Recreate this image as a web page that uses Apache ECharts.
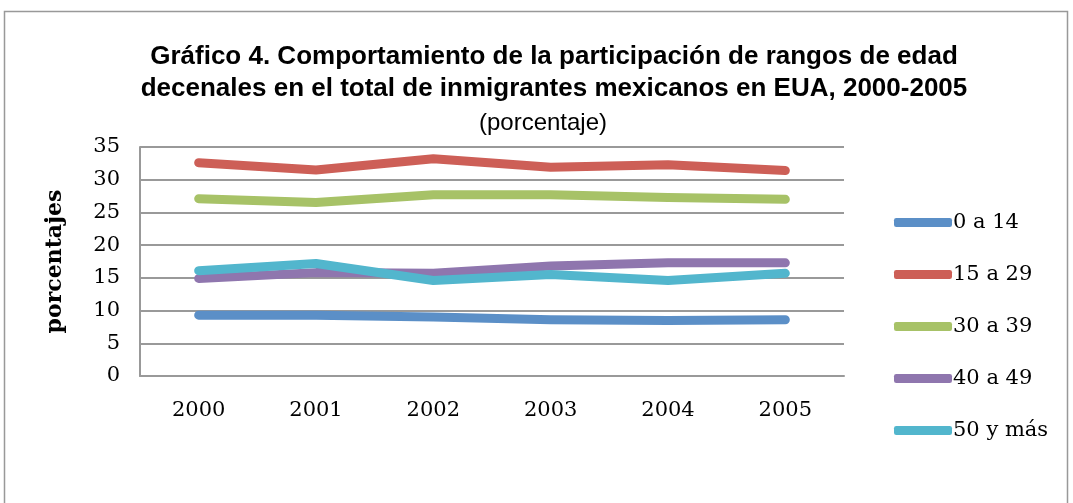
<!DOCTYPE html>
<html>
<head>
<meta charset="utf-8">
<script src="https://cdn.jsdelivr.net/npm/echarts@6/dist/echarts.min.js"></script>
<style>
  html, body { margin: 0; padding: 0; background: #fff; }
  #chart { width: 1073px; height: 503px; }
</style>
</head>
<body>
<div id="chart"></div>
<script>
const years = ['2000', '2001', '2002', '2003', '2004', '2005']
const seriesNames = ['0 a 14', '15 a 29', '30 a 39', '40 a 49', '50 y más']
const edad0a14 = [9.3, 9.3, 9.0, 8.6, 8.5, 8.6]
const edad15a29 = [32.6, 31.5, 33.2, 31.9, 32.3, 31.4]
const edad30a39 = [27.1, 26.5, 27.7, 27.7, 27.3, 27.0]
const edad40a49 = [14.9, 15.8, 15.7, 16.8, 17.3, 17.3]
const edad50mas = [16.1, 17.2, 14.6, 15.5, 14.6, 15.7]
const colors = ['#5b8fc7', '#cd5f57', '#a7c267', '#8f76ae', '#52b6cd']

const allValues = [edad0a14, edad15a29, edad30a39, edad40a49, edad50mas]
const serifFont = '"DejaVu Serif", "Liberation Serif", serif'

const chart = echarts.init(document.getElementById('chart'))
const option = {
  backgroundColor: '#fff',
  animation: false,
  graphic: [{
    type: 'rect',
    shape: { x: 4.5, y: 11.5, width: 1063, height: 520 },
    style: { fill: 'none', stroke: '#999', lineWidth: 1.5 },
    silent: true
  }],
  title: [{
    text: 'Gráfico 4. Comportamiento de la participación de rangos de edad\ndecenales en el total de inmigrantes mexicanos en EUA, 2000-2005',
    left: 549,
    top: 36,
    textAlign: 'center',
    textStyle: {
      fontFamily: '"Liberation Sans", Arial, sans-serif',
      fontWeight: 'bold',
      fontSize: 26,
      lineHeight: 32,
      color: '#000'
    }
  }, {
    text: '(porcentaje)',
    left: 538,
    top: 106,
    textAlign: 'center',
    textStyle: {
      fontFamily: '"Liberation Sans", Arial, sans-serif',
      fontWeight: 'normal',
      fontSize: 24,
      color: '#000'
    }
  }],
  legend: {
    orient: 'vertical',
    left: 889,
    top: 207,
    itemWidth: 58,
    itemHeight: 9,
    itemGap: 31,
    icon: 'roundRect',
    data: seriesNames,
    textStyle: {
      fontFamily: serifFont,
      fontSize: 21,
      color: '#000',
      padding: [0, 0, 0, -4]
    }
  },
  grid: {
    left: 140,
    right: 229,
    top: 147,
    bottom: 127
  },
  xAxis: {
    type: 'category',
    data: years,
    boundaryGap: true,
    axisLine: { lineStyle: { color: '#999', width: 2 } },
    axisTick: { show: false },
    axisLabel: {
      fontFamily: serifFont,
      fontSize: 21,
      color: '#000',
      margin: 24
    }
  },
  yAxis: {
    type: 'value',
    min: 0,
    max: 35,
    interval: 5,
    name: 'porcentajes',
    nameLocation: 'middle',
    nameGap: 74,
    nameTextStyle: {
      fontFamily: serifFont,
      fontWeight: 'bold',
      fontSize: 22,
      color: '#000'
    },
    axisLine: { show: true, lineStyle: { color: '#999', width: 2 } },
    axisTick: { show: false },
    splitLine: { lineStyle: { color: '#999', width: 2 } },
    axisLabel: {
      fontFamily: serifFont,
      fontSize: 21,
      color: '#000',
      margin: 20
    }
  },
  series: seriesNames.map((name, i) => ({
    name: name,
    type: 'line',
    data: allValues[i],
    symbol: 'none',
    color: colors[i],
    lineStyle: { width: 9, color: colors[i], cap: 'round', join: 'round' }
  }))
}
chart.setOption(option)
</script>
</body>
</html>
